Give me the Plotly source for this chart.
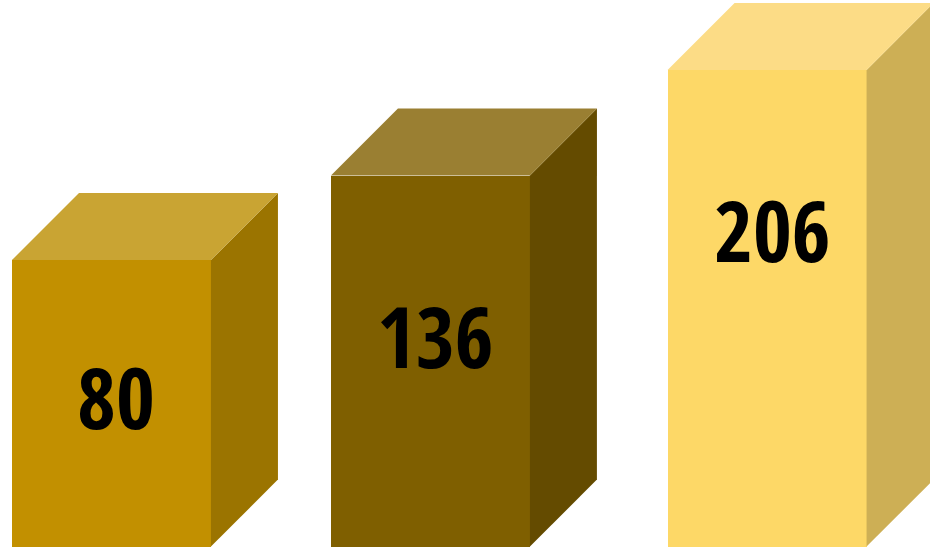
import plotly.graph_objects as go

# Data
categories = ["A", "B", "C"]
values = [80, 136, 206]

# Colours per box: front, top, side
front_colors = ["#C29000", "#7F5F00", "#FDD867"]
top_colors = ["#C9A433", "#9A7F32", "#FCDC86"]
side_colors = ["#9B7400", "#644B00", "#CDAF55"]

# Geometry (data units)
SLOT_X = [0, 0.973, 2]   # horizontal slot of each box
BASE = -110              # floor the boxes stand on
BAR_W = 0.607            # front-face width
DEPTH_X = 0.2044         # oblique depth, horizontal
DEPTH_Y = 44.4           # oblique depth, vertical
LABEL_DROP = [136, 160, 160]   # label offset below the front top edge, px

fig = go.Figure()

# front faces
fig.add_trace(go.Bar(
    x=SLOT_X, y=[v - BASE for v in values], base=BASE, width=BAR_W,
    marker=dict(color=front_colors, line=dict(width=0)),
    hoverinfo="skip", showlegend=False,
))

for i, v in enumerate(values):
    xl = SLOT_X[i] - BAR_W / 2
    xr = SLOT_X[i] + BAR_W / 2
    # side face
    fig.add_trace(go.Scatter(
        x=[xr, xr + DEPTH_X, xr + DEPTH_X, xr, xr],
        y=[BASE, BASE + DEPTH_Y, v + DEPTH_Y, v, BASE],
        fill="toself", fillcolor=side_colors[i], mode="lines",
        line=dict(width=0, color=side_colors[i]),
        hoverinfo="skip", showlegend=False,
    ))
    # top face
    fig.add_trace(go.Scatter(
        x=[xl, xr, xr + DEPTH_X, xl + DEPTH_X, xl],
        y=[v, v, v + DEPTH_Y, v + DEPTH_Y, v],
        fill="toself", fillcolor=top_colors[i], mode="lines",
        line=dict(width=0, color=top_colors[i]),
        hoverinfo="skip", showlegend=False,
    ))
    # value label
    fig.add_annotation(
        x=SLOT_X[i], y=v, text=str(v), showarrow=False,
        xshift=5, yshift=-LABEL_DROP[i], yanchor="middle",
        font=dict(family="Open Sans Condensed, Roboto Condensed, DejaVu Sans Condensed",
                  size=84, color="#000000", weight=800),
    )

fig.update_layout(
    width=930, height=549,
    margin=dict(l=0, r=0, t=0, b=0),
    paper_bgcolor="white", plot_bgcolor="white",
    xaxis=dict(range=[-0.340, 2.497], visible=False, fixedrange=True),
    yaxis=dict(range=[-111.6, 252.4], visible=False, fixedrange=True),
    bargap=0,
)

fig.write_html("out.html")
